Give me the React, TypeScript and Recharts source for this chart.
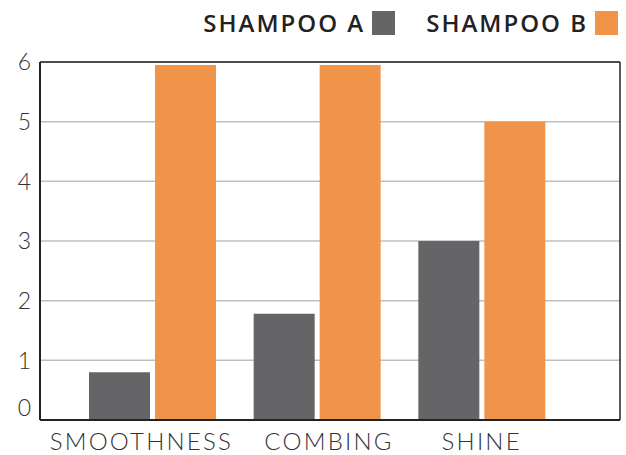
import { BarChart, Bar, XAxis, YAxis, CartesianGrid } from "recharts";

const CATEGORIES = ["SMOOTHNESS", "COMBING", "SHINE"];
const SHAMPOO_A = [0.8, 1.78, 3.0];
const SHAMPOO_B = [5.95, 5.95, 5.0];
const Y_TICKS = [0, 1, 2, 3, 4, 5, 6];

const COLOR_A = "#656567";
const COLOR_B = "#f0944a";
const FONT = "Lato, 'Open Sans', sans-serif";

// labels in the original sit a bit off the bar groups
const LABEL_NUDGE: Record<string, number> = { SMOOTHNESS: -11, COMBING: 12, SHINE: 0 };

const data = CATEGORIES.map((name, i) => ({
  name,
  a: SHAMPOO_A[i],
  b: SHAMPOO_B[i],
}));

function XTick({ x, y, payload }: any) {
  const label = String(payload.value);
  return (
    <text
      x={x + (LABEL_NUDGE[label] ?? 0)}
      y={y + 30}
      textAnchor="middle"
      fontFamily={FONT}
      fontWeight={300}
      fontSize={24}
      letterSpacing={2.2}
      fill="#333"
    >
      {label}
    </text>
  );
}

function YTick({ x, y, payload }: any) {
  const shift = payload.value === 0 ? -12 : 0;
  return (
    <text
      x={x - 9}
      y={y + shift}
      dy="0.36em"
      textAnchor="end"
      fontFamily={FONT}
      fontWeight={300}
      fontSize={23}
      fill="#333"
    >
      {payload.value}
    </text>
  );
}

function LegendItem({ label, color }: { label: string; color: string }) {
  return (
    <span style={{ display: "inline-flex", alignItems: "center", marginLeft: 31 }}>
      <span
        style={{
          fontFamily: "'Open Sans', sans-serif",
          fontWeight: 600,
          fontSize: 24,
          letterSpacing: 2,
          color: "#222",
          lineHeight: "24px",
        }}
      >
        {label}
      </span>
      <span
        style={{
          display: "inline-block",
          width: 23,
          height: 24,
          marginLeft: 7,
          background: color,
        }}
      />
    </span>
  );
}

export default function App() {
  return (
    <div style={{ position: "absolute", left: 0, top: 0, width: 626, height: 455, background: "#fff" }}>
      <div
        style={{
          position: "absolute",
          top: 11,
          right: 8,
          display: "flex",
          alignItems: "center",
        }}
      >
        <LegendItem label="SHAMPOO A" color={COLOR_A} />
        <LegendItem label="SHAMPOO B" color={COLOR_B} />
      </div>
      <BarChart
        width={626}
        height={455}
        data={data}
        margin={{ top: 61, right: 5, left: 0, bottom: 0 }}
        barSize={61}
        barGap={5}
      >
        <CartesianGrid vertical={false} stroke="#bfbfbf" strokeWidth={1.5} />
        <XAxis
          dataKey="name"
          height={35}
          padding={{ left: 30, right: 56 }}
          tickLine={false}
          tickSize={0}
          tickMargin={0}
          axisLine={{ stroke: "#222", strokeWidth: 2 }}
          tick={<XTick />}
          interval={0}
        />
        <XAxis
          xAxisId="top"
          dataKey="name"
          orientation="top"
          height={1}
          tick={false}
          tickLine={false}
          axisLine={{ stroke: "#222", strokeWidth: 1.5 }}
        />
        <YAxis
          domain={[0, 6]}
          ticks={Y_TICKS}
          width={40}
          tickLine={false}
          tickSize={0}
          tickMargin={0}
          axisLine={{ stroke: "#222", strokeWidth: 2 }}
          tick={<YTick />}
        />
        <YAxis
          yAxisId="right"
          orientation="right"
          domain={[0, 6]}
          width={1}
          tick={false}
          tickLine={false}
          axisLine={{ stroke: "#222", strokeWidth: 1.5 }}
        />
        <Bar dataKey="a" name="SHAMPOO A" fill={COLOR_A} isAnimationActive={false} />
        <Bar dataKey="b" name="SHAMPOO B" fill={COLOR_B} isAnimationActive={false} />
      </BarChart>
    </div>
  );
}
